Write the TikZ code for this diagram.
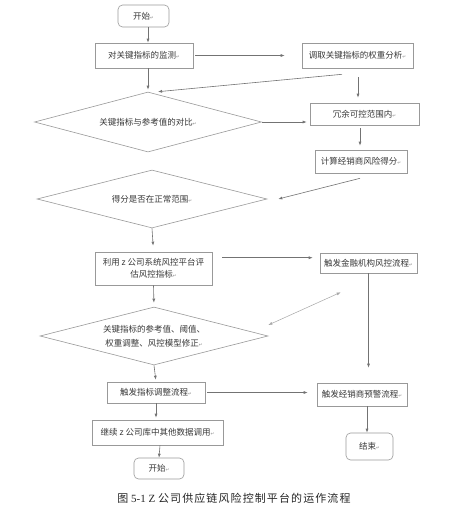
\documentclass[tikz,border=0pt]{standalone}
\usepackage{fontspec}
\setmainfont{Liberation Serif}
\newfontfamily\cjk{Noto Sans CJK SC}
\newfontfamily\symf{DejaVu Sans}
\usetikzlibrary{shapes.geometric,arrows.meta,calc}
\newcommand\pmark{{\symf\fontsize{4.5}{5}\selectfont\textcolor{black!45}{↵}}}
\begin{document}
\begin{tikzpicture}[x=1pt,y=-1pt,
  box/.style={draw=black!40, line width=0.6pt, fill=white, inner sep=0pt,
    font=\cjk\fontsize{8.5}{12}\selectfont, text=black!78, align=center},
  rbox/.style={box, rounded corners=4.5pt},
  dia/.style={diamond, aspect=3.8, draw=black!40, line width=0.6pt, inner sep=0pt,
    font=\cjk\fontsize{8.5}{12}\selectfont, text=black!78, align=center},
  arr/.style={draw=black!55, line width=0.6pt, -{Latex[length=4pt,width=3pt]}},
  darr/.style={draw=black!35, line width=0.5pt, {Latex[length=4pt,width=3pt]}-{Latex[length=4pt,width=3pt]}},
]
\useasboundingbox[fill=white] (0,0) rectangle (452,509);

% nodes
\node[rbox, minimum width=51pt, minimum height=22pt] (s1) at (143.5,16) {开始\pmark};
\node[box, minimum width=98pt, minimum height=25pt] (mon) at (144,55.5) {对关键指标的监测\pmark};
\node[box, minimum width=111pt, minimum height=25pt] (wt) at (357.5,55.5) {调取关键指标的权重分析\pmark};
\node[dia, minimum width=227pt, minimum height=60pt] (d1) at (148,122) {关键指标与参考值的对比\pmark};
\node[box, minimum width=109pt, minimum height=22pt] (red) at (364.5,114) {冗余可控范围内\pmark};
\node[box, minimum width=92pt, minimum height=23pt] (calc) at (361,161.5) {计算经销商风险得分\pmark};
\node[dia, minimum width=230pt, minimum height=58pt] (d2) at (152,199) {得分是否在正常范围\pmark};
\node[box, minimum width=117pt, minimum height=33pt] (use) at (153.5,268.5) {利用 z 公司系统风控平台评\\估风控指标\pmark};
\node[box, minimum width=97pt, minimum height=20pt] (fin) at (368.5,263) {触发金融机构风控流程\pmark};
\node[dia, minimum width=228pt, minimum height=58pt] (d3) at (154,336) {关键指标的参考值、阈值、\\[2pt]权重调整、风控模型修正\pmark};
\node[box, minimum width=98pt, minimum height=21pt] (adj) at (156,392.5) {触发指标调整流程\pmark};
\node[box, minimum width=90pt, minimum height=23pt] (warn) at (362,394.5) {触发经销商预警流程\pmark};
\node[box, minimum width=131pt, minimum height=25pt] (cont) at (157.5,432.5) {继续 z 公司库中其他数据调用\pmark};
\node[rbox, minimum width=50pt, minimum height=21pt] (s2) at (159,468.5) {开始\pmark};
\node[rbox, minimum width=47pt, minimum height=27pt] (end) at (369.5,446.5) {结束\pmark};

\node[font=\fontsize{11}{13}\selectfont, text=black!85, inner sep=0pt] (cap) at (234,498)
  {{\cjk\addfontfeature{LetterSpace=10}图} 5-1 Z {\cjk\addfontfeature{LetterSpace=10}公司供应链风险控制平台的运作流程}};

% connectors
\draw[arr] ($(s1.south)+(4.5,0)$) -- ($(mon.north)+(4,0)$);
\draw[arr, shorten >=2pt] ($(mon.south)+(4,0)$) -- (d1.north);
\draw[arr, shorten >=17pt] ($(mon.east)+(2,0)$) -- (wt.west);
\draw[arr] ($(wt.south)+(-15.5,6)$) -- ($(d1.north)+(10,0)$);
\draw[arr, shorten >=5pt] ($(wt.south)+(0.5,9)$) -- ($(red.north)+(-6.5,0)$);
\draw[arr, shorten >=3pt] (d1.east) -- (d1.east -| red.west);
\draw[arr, shorten >=4pt] ($(red.south)+(-4.5,3)$) -- ($(calc.north)+(-1,0)$);
\draw[arr] ($(calc.south)+(-1,5)$) -- ($(d2.east)+(11,0)$);
\draw[arr, shorten >=6pt] (d2.south) -- (use.north);
\draw[arr] ($(use.north east)+(10,6)$) -- ($(fin.north west)+(-7,5)$);
\draw[arr, shorten >=4pt] (use.south) -- (d3.north);
\draw[darr] ($(d3.east)+(0,-11)$) -- ($(fin.south west)+(21,19)$);
\draw[arr, shorten >=15pt] (fin.south) -- (fin.south |- warn.north);
\draw[arr, shorten >=2pt] (d3.south) -- (adj.north);
\draw[arr, shorten >=9pt] ($(adj.east)+(2,0)$) -- (adj.east -| warn.west);
\draw[arr, shorten >=2pt] (adj.south) -- (adj.south |- cont.north);
\draw[arr] ($(cont.south)+(2.5,0)$) -- (s2.north);
\draw[arr] ($(warn.south)+(5,0)$) -- ($(end.north)+(-2.5,0)$);
\end{tikzpicture}
\end{document}
